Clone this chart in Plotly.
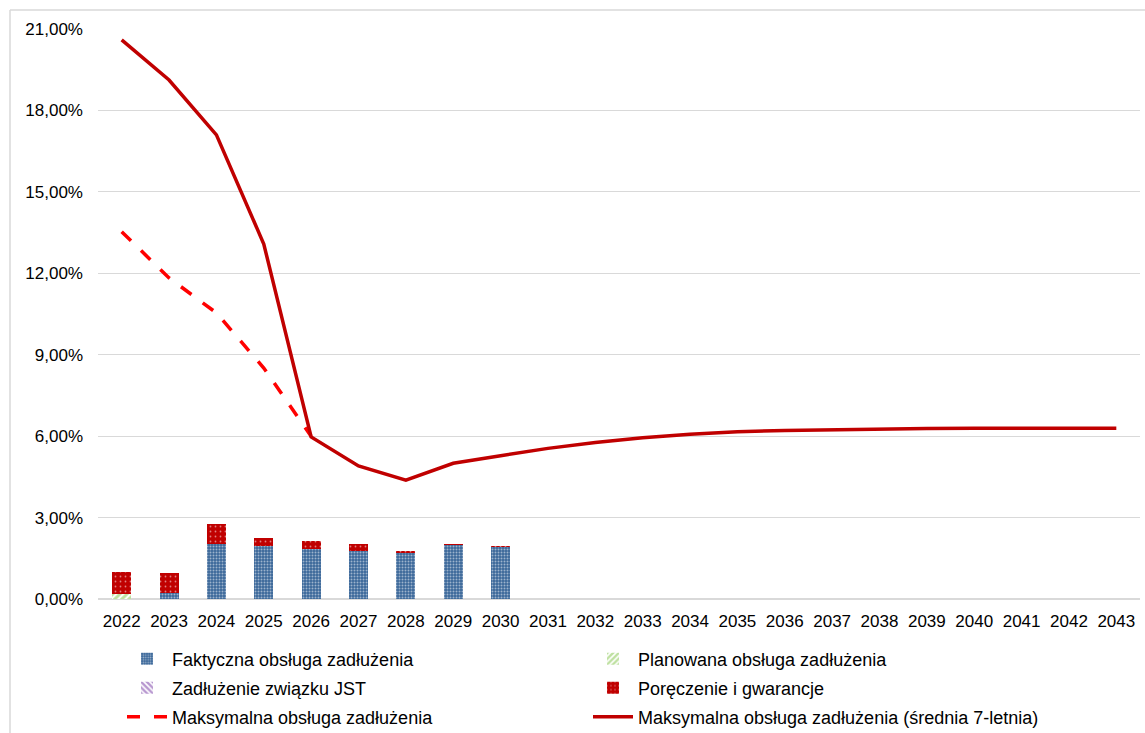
import plotly.graph_objects as go

years = [str(y) for y in range(2022, 2044)]
bar_years = years[:9]

faktyczna = [0.00, 0.22, 2.02, 1.94, 1.86, 1.78, 1.72, 2.00, 1.94]
planowana = [0.20, 0.00, 0.00, 0.00, 0.00, 0.00, 0.00, 0.00, 0.00]
zwiazek = [0.00, 0.00, 0.00, 0.00, 0.00, 0.00, 0.00, 0.00, 0.00]
poreczenia = [0.78, 0.74, 0.74, 0.29, 0.27, 0.24, 0.05, 0.02, 0.01]

max_years = years[:5]
max_obsluga = [13.53, 11.83, 10.54, 8.51, 6.00]
max_srednia = [20.60, 19.12, 17.10, 13.08, 5.97, 4.90, 4.38, 5.00, 5.28, 5.55,
               5.77, 5.94, 6.07, 6.16, 6.21, 6.24, 6.26, 6.28, 6.29, 6.29,
               6.29, 6.29]

names = ["Faktyczna obsługa zadłużenia", "Planowana obsługa zadłużenia",
         "Zadłużenie związku JST", "Poręczenie i gwarancje",
         "Maksymalna obsługa zadłużenia",
         "Maksymalna obsługa zadłużenia (średnia 7-letnia)"]

FONT = "Liberation Sans, Arial, sans-serif"
pct = lambda a: [v / 100 for v in a]

fig = go.Figure()
fig.add_trace(go.Bar(x=bar_years, y=pct(faktyczna), name=names[0], legend="legend",
                     marker=dict(color="#3A6799", line=dict(width=0),
                                 pattern=dict(shape=".", fgcolor="#FFFFFF", size=3, solidity=0.35))))
fig.add_trace(go.Bar(x=bar_years, y=pct(planowana), name=names[1], legend="legend2",
                     marker=dict(color="#FFFFFF", line=dict(width=0),
                                 pattern=dict(shape="/", fgcolor="#7DC242", bgcolor="#FFFFFF", size=5, solidity=0.6))))
fig.add_trace(go.Bar(x=bar_years, y=pct(zwiazek), name=names[2], legend="legend3",
                     marker=dict(color="#FFFFFF", line=dict(width=0),
                                 pattern=dict(shape="\\", fgcolor="#7030A0", bgcolor="#FFFFFF", size=5, solidity=0.6))))
fig.add_trace(go.Bar(x=bar_years, y=pct(poreczenia), name=names[3], legend="legend4",
                     marker=dict(color="#C00000", line=dict(width=0),
                                 pattern=dict(shape=".", fgcolor="#FFFFFF", size=5, solidity=0.1))))
fig.add_trace(go.Scatter(x=max_years, y=pct(max_obsluga), name=names[4], legend="legend5",
                         mode="lines", line=dict(color="#FF0000", width=3.5, dash="13px,14px")))
fig.add_trace(go.Scatter(x=years, y=pct(max_srednia), name=names[5], legend="legend6",
                         mode="lines", line=dict(color="#C00000", width=3.5)))

L, R, T, B = 98, 5, 29, 134
W, H = 1145, 733
pw, ph = W - L - R, H - T - B
px = lambda x: (x - L) / pw
py = lambda y: (H - B - y) / ph

leg_common = dict(orientation="v", xanchor="left", yanchor="middle", bgcolor="rgba(0,0,0,0)",
                  xref="container", yref="container",
                  font=dict(family=FONT, size=18, color="#000000"), itemwidth=40)
legend_pos = [(122, 659), (588, 659), (122, 688), (588, 688), (122, 717), (588, 717)]
legends = {}
for i, (lx, ly) in enumerate(legend_pos):
    key = "legend" if i == 0 else f"legend{i+1}"
    legends[key] = dict(leg_common, x=lx / W, y=1 - ly / H)

fig.update_layout(
    width=W, height=H,
    margin=dict(l=L, r=R, t=T, b=B, pad=0, autoexpand=False),
    paper_bgcolor="#FFFFFF", plot_bgcolor="#FFFFFF",
    barmode="stack", bargap=0.6,
    separators=", ",
    showlegend=True,
    font=dict(family=FONT, size=17, color="#000000"),
    xaxis=dict(type="category", categoryorder="array", categoryarray=years,
               range=[-0.5, len(years) - 0.5],
               showgrid=False, showline=False, ticks="", ticklabelstandoff=10,
               automargin=False, tickangle=0,
               tickfont=dict(family=FONT, size=17, color="#000000")),
    yaxis=dict(range=[0, 0.21], dtick=0.03, tick0=0, tickformat=".2%",
               showgrid=True, gridcolor="#D9D9D9", gridwidth=1.3,
               zeroline=True, zerolinecolor="#D9D9D9", zerolinewidth=1.5,
               showline=False, ticks="", ticklabelstandoff=14, automargin=False,
               tickfont=dict(family=FONT, size=17, color="#000000")),
    shapes=[
        dict(type="line", xref="paper", yref="paper", x0=px(10), x1=px(10), y0=py(10), y1=py(760),
             line=dict(color="#D9D9D9", width=1.5)),
        dict(type="line", xref="paper", yref="paper", x0=px(10), x1=px(1200), y0=py(10), y1=py(10),
             line=dict(color="#D9D9D9", width=1.5)),
    ],
    **legends,
)

fig.write_html("out.html", config={"displayModeBar": False},
               post_script="document.body.style.margin='0';")
